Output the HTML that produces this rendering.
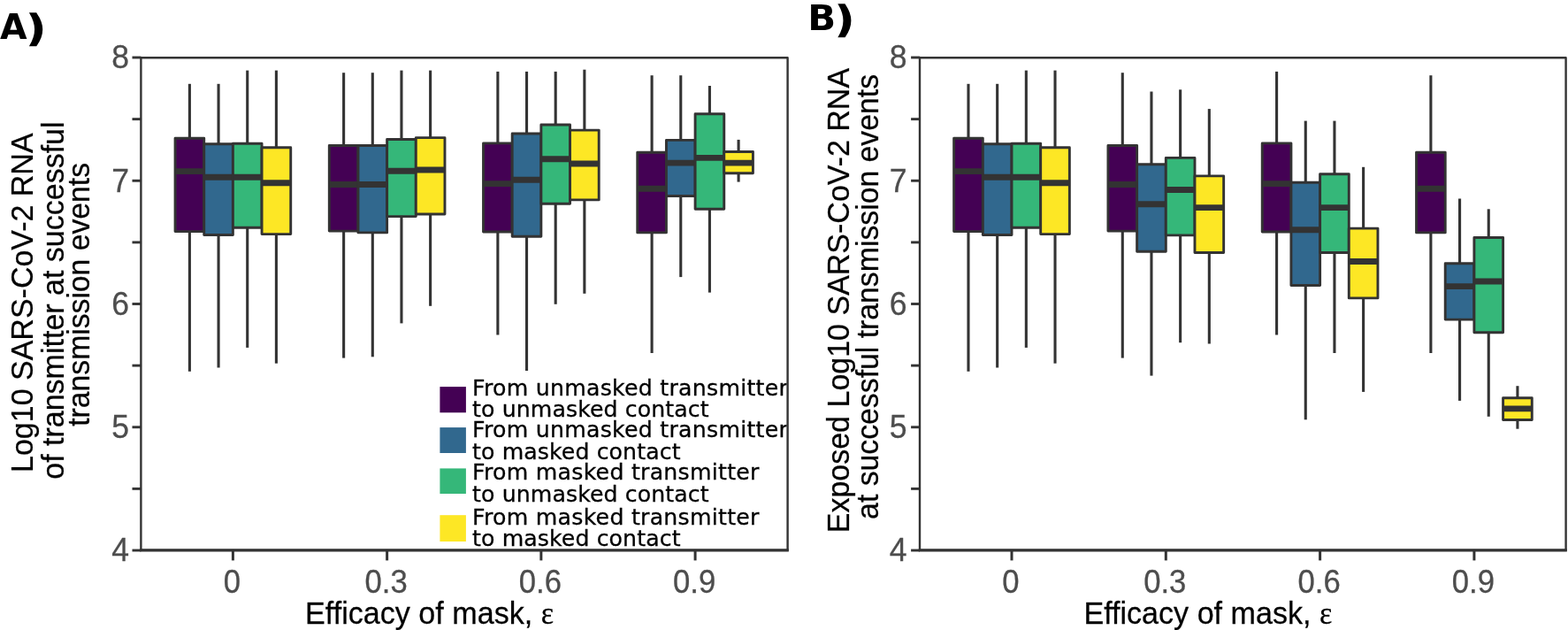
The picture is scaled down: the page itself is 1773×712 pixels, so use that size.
<!DOCTYPE html>
<html><head><meta charset="utf-8"><title>Mask efficacy boxplots</title>
<style>
html,body{margin:0;padding:0;background:#fff;}
body{width:1773px;height:712px;overflow:hidden;}
svg{display:block;}
.tk{font-family:"Liberation Sans",Arial,sans-serif;font-size:36.5px;fill:#4D4D4D;stroke:#4D4D4D;stroke-width:0.3px;}
.ti{font-family:"Liberation Sans",Arial,sans-serif;font-size:34.6px;fill:#000;stroke:#000;stroke-width:0.25px;}
.tr{font-family:"Liberation Sans",Arial,sans-serif;font-size:34px;fill:#000;stroke:#000;stroke-width:0.25px;}
.eps{font-family:"Liberation Serif","DejaVu Serif",serif;}
.lg{font-family:"DejaVu Sans",Verdana,sans-serif;font-size:25.2px;fill:#000;stroke:#000;stroke-width:0.3px;}
.pl{font-family:"DejaVu Sans",Verdana,sans-serif;font-weight:bold;font-size:39.5px;fill:#000;}
.pp{font-size:40px;stroke:#000;stroke-width:1.4px;}
</style></head>
<body>
<svg width="1773" height="712" viewBox="0 0 1773 712">
<rect width="1773" height="712" fill="#fff"/>
<defs><clipPath id="clipA"><rect x="160" y="66.4" width="729.4" height="554.4"/></clipPath></defs>
<line x1="214.40" y1="94.80" x2="214.40" y2="156.20" stroke="#333333" stroke-width="3.1"/>
<line x1="214.40" y1="261.60" x2="214.40" y2="419.80" stroke="#333333" stroke-width="3.1"/>
<rect x="198.06" y="156.20" width="32.67" height="105.40" fill="#440154" stroke="#333333" stroke-width="2.9" stroke-linejoin="round"/>
<line x1="198.06" y1="193.60" x2="230.73" y2="193.60" stroke="#333333" stroke-width="6.9"/>
<line x1="247.07" y1="94.80" x2="247.07" y2="162.70" stroke="#333333" stroke-width="3.1"/>
<line x1="247.07" y1="265.50" x2="247.07" y2="415.50" stroke="#333333" stroke-width="3.1"/>
<rect x="230.73" y="162.70" width="32.67" height="102.80" fill="#31688E" stroke="#333333" stroke-width="2.9" stroke-linejoin="round"/>
<line x1="230.73" y1="200.20" x2="263.40" y2="200.20" stroke="#333333" stroke-width="6.9"/>
<line x1="279.73" y1="79.60" x2="279.73" y2="162.30" stroke="#333333" stroke-width="3.1"/>
<line x1="279.73" y1="257.20" x2="279.73" y2="392.90" stroke="#333333" stroke-width="3.1"/>
<rect x="263.40" y="162.30" width="32.67" height="94.90" fill="#35B779" stroke="#333333" stroke-width="2.9" stroke-linejoin="round"/>
<line x1="263.40" y1="200.20" x2="296.07" y2="200.20" stroke="#333333" stroke-width="6.9"/>
<line x1="312.40" y1="79.60" x2="312.40" y2="166.70" stroke="#333333" stroke-width="3.1"/>
<line x1="312.40" y1="264.60" x2="312.40" y2="410.70" stroke="#333333" stroke-width="3.1"/>
<rect x="296.07" y="166.70" width="32.67" height="97.90" fill="#FDE725" stroke="#333333" stroke-width="2.9" stroke-linejoin="round"/>
<line x1="296.07" y1="206.70" x2="328.74" y2="206.70" stroke="#333333" stroke-width="6.9"/>
<line x1="388.63" y1="82.20" x2="388.63" y2="164.50" stroke="#333333" stroke-width="3.1"/>
<line x1="388.63" y1="261.10" x2="388.63" y2="404.60" stroke="#333333" stroke-width="3.1"/>
<rect x="372.29" y="164.50" width="32.67" height="96.60" fill="#440154" stroke="#333333" stroke-width="2.9" stroke-linejoin="round"/>
<line x1="372.29" y1="208.50" x2="404.96" y2="208.50" stroke="#333333" stroke-width="6.9"/>
<line x1="421.30" y1="82.20" x2="421.30" y2="164.50" stroke="#333333" stroke-width="3.1"/>
<line x1="421.30" y1="262.90" x2="421.30" y2="403.30" stroke="#333333" stroke-width="3.1"/>
<rect x="404.96" y="164.50" width="32.67" height="98.40" fill="#31688E" stroke="#333333" stroke-width="2.9" stroke-linejoin="round"/>
<line x1="404.96" y1="208.50" x2="437.63" y2="208.50" stroke="#333333" stroke-width="6.9"/>
<line x1="453.96" y1="79.60" x2="453.96" y2="157.50" stroke="#333333" stroke-width="3.1"/>
<line x1="453.96" y1="244.60" x2="453.96" y2="365.40" stroke="#333333" stroke-width="3.1"/>
<rect x="437.63" y="157.50" width="32.67" height="87.10" fill="#35B779" stroke="#333333" stroke-width="2.9" stroke-linejoin="round"/>
<line x1="437.63" y1="193.20" x2="470.30" y2="193.20" stroke="#333333" stroke-width="6.9"/>
<line x1="486.63" y1="79.60" x2="486.63" y2="155.60" stroke="#333333" stroke-width="3.1"/>
<line x1="486.63" y1="242.00" x2="486.63" y2="345.80" stroke="#333333" stroke-width="3.1"/>
<rect x="470.30" y="155.60" width="32.67" height="86.40" fill="#FDE725" stroke="#333333" stroke-width="2.9" stroke-linejoin="round"/>
<line x1="470.30" y1="192.00" x2="502.97" y2="192.00" stroke="#333333" stroke-width="6.9"/>
<line x1="562.86" y1="80.90" x2="562.86" y2="161.90" stroke="#333333" stroke-width="3.1"/>
<line x1="562.86" y1="262.00" x2="562.86" y2="378.50" stroke="#333333" stroke-width="3.1"/>
<rect x="546.52" y="161.90" width="32.67" height="100.10" fill="#440154" stroke="#333333" stroke-width="2.9" stroke-linejoin="round"/>
<line x1="546.52" y1="207.60" x2="579.19" y2="207.60" stroke="#333333" stroke-width="6.9"/>
<line x1="595.53" y1="80.90" x2="595.53" y2="151.00" stroke="#333333" stroke-width="3.1"/>
<line x1="595.53" y1="267.20" x2="595.53" y2="419.00" stroke="#333333" stroke-width="3.1"/>
<rect x="579.19" y="151.00" width="32.67" height="116.20" fill="#31688E" stroke="#333333" stroke-width="2.9" stroke-linejoin="round"/>
<line x1="579.19" y1="203.20" x2="611.86" y2="203.20" stroke="#333333" stroke-width="6.9"/>
<line x1="628.19" y1="80.90" x2="628.19" y2="141.00" stroke="#333333" stroke-width="3.1"/>
<line x1="628.19" y1="230.20" x2="628.19" y2="343.80" stroke="#333333" stroke-width="3.1"/>
<rect x="611.86" y="141.00" width="32.67" height="89.20" fill="#35B779" stroke="#333333" stroke-width="2.9" stroke-linejoin="round"/>
<line x1="611.86" y1="179.80" x2="644.53" y2="179.80" stroke="#333333" stroke-width="6.9"/>
<line x1="660.86" y1="78.70" x2="660.86" y2="147.10" stroke="#333333" stroke-width="3.1"/>
<line x1="660.86" y1="225.90" x2="660.86" y2="331.80" stroke="#333333" stroke-width="3.1"/>
<rect x="644.53" y="147.10" width="32.67" height="78.80" fill="#FDE725" stroke="#333333" stroke-width="2.9" stroke-linejoin="round"/>
<line x1="644.53" y1="185.00" x2="677.20" y2="185.00" stroke="#333333" stroke-width="6.9"/>
<line x1="737.09" y1="85.20" x2="737.09" y2="172.30" stroke="#333333" stroke-width="3.1"/>
<line x1="737.09" y1="262.90" x2="737.09" y2="399.00" stroke="#333333" stroke-width="3.1"/>
<rect x="720.75" y="172.30" width="32.67" height="90.60" fill="#440154" stroke="#333333" stroke-width="2.9" stroke-linejoin="round"/>
<line x1="720.75" y1="213.20" x2="753.42" y2="213.20" stroke="#333333" stroke-width="6.9"/>
<line x1="769.76" y1="85.20" x2="769.76" y2="158.40" stroke="#333333" stroke-width="3.1"/>
<line x1="769.76" y1="221.50" x2="769.76" y2="313.10" stroke="#333333" stroke-width="3.1"/>
<rect x="753.42" y="158.40" width="32.67" height="63.10" fill="#31688E" stroke="#333333" stroke-width="2.9" stroke-linejoin="round"/>
<line x1="753.42" y1="184.10" x2="786.09" y2="184.10" stroke="#333333" stroke-width="6.9"/>
<line x1="802.42" y1="97.00" x2="802.42" y2="128.80" stroke="#333333" stroke-width="3.1"/>
<line x1="802.42" y1="236.30" x2="802.42" y2="330.60" stroke="#333333" stroke-width="3.1"/>
<rect x="786.09" y="128.80" width="32.67" height="107.50" fill="#35B779" stroke="#333333" stroke-width="2.9" stroke-linejoin="round"/>
<line x1="786.09" y1="178.40" x2="818.76" y2="178.40" stroke="#333333" stroke-width="6.9"/>
<line x1="835.09" y1="157.90" x2="835.09" y2="171.50" stroke="#333333" stroke-width="3.1"/>
<line x1="835.09" y1="195.80" x2="835.09" y2="205.60" stroke="#333333" stroke-width="3.1"/>
<rect x="818.76" y="171.50" width="32.67" height="24.30" fill="#FDE725" stroke="#333333" stroke-width="2.9" stroke-linejoin="round"/>
<line x1="818.76" y1="184.10" x2="851.43" y2="184.10" stroke="#333333" stroke-width="6.9"/>
<rect x="159.40" y="65.30" width="731.20" height="556.60" fill="none" stroke="#333333" stroke-width="2.4" stroke-linejoin="round"/>
<line x1="158.20" y1="621.90" x2="891.80" y2="621.90" stroke="#333333" stroke-width="3.4"/>
<line x1="149.50" y1="622.00" x2="159.40" y2="622.00" stroke="#333333" stroke-width="2.9"/>
<text transform="translate(146.00,634.30) scale(0.975,1)" text-anchor="end" class="tk">4</text>
<line x1="149.50" y1="552.38" x2="159.40" y2="552.38" stroke="#333333" stroke-width="2.9"/>
<line x1="149.50" y1="482.75" x2="159.40" y2="482.75" stroke="#333333" stroke-width="2.9"/>
<text transform="translate(146.00,495.05) scale(0.975,1)" text-anchor="end" class="tk">5</text>
<line x1="149.50" y1="413.12" x2="159.40" y2="413.12" stroke="#333333" stroke-width="2.9"/>
<line x1="149.50" y1="343.50" x2="159.40" y2="343.50" stroke="#333333" stroke-width="2.9"/>
<text transform="translate(146.00,355.80) scale(0.975,1)" text-anchor="end" class="tk">6</text>
<line x1="149.50" y1="273.88" x2="159.40" y2="273.88" stroke="#333333" stroke-width="2.9"/>
<line x1="149.50" y1="204.25" x2="159.40" y2="204.25" stroke="#333333" stroke-width="2.9"/>
<text transform="translate(146.00,216.55) scale(0.975,1)" text-anchor="end" class="tk">7</text>
<line x1="149.50" y1="134.62" x2="159.40" y2="134.62" stroke="#333333" stroke-width="2.9"/>
<line x1="149.50" y1="65.00" x2="159.40" y2="65.00" stroke="#333333" stroke-width="2.9"/>
<text transform="translate(146.00,77.30) scale(0.975,1)" text-anchor="end" class="tk">8</text>
<line x1="263.40" y1="621.90" x2="263.40" y2="633.40" stroke="#333333" stroke-width="3.0"/>
<text transform="translate(262.40,669.6) scale(0.95,1)" text-anchor="middle" class="tk">0</text>
<line x1="437.63" y1="621.90" x2="437.63" y2="633.40" stroke="#333333" stroke-width="3.0"/>
<text transform="translate(436.63,669.6) scale(0.95,1)" text-anchor="middle" class="tk">0.3</text>
<line x1="611.86" y1="621.90" x2="611.86" y2="633.40" stroke="#333333" stroke-width="3.0"/>
<text transform="translate(610.86,669.6) scale(0.95,1)" text-anchor="middle" class="tk">0.6</text>
<line x1="786.09" y1="621.90" x2="786.09" y2="633.40" stroke="#333333" stroke-width="3.0"/>
<text transform="translate(785.09,669.6) scale(0.95,1)" text-anchor="middle" class="tk">0.9</text>
<g clip-path="url(#clipA)">
<rect x="497.4" y="437.10" width="29.5" height="29.20" fill="#440154"/>
<text x="534.1" y="446.50" class="lg" style="letter-spacing:0.26px">From unmasked transmitter</text>
<text x="534.1" y="470.70" class="lg" style="letter-spacing:0.1px">to unmasked contact</text>
<rect x="497.4" y="483.10" width="29.5" height="28.90" fill="#31688E"/>
<text x="534.1" y="493.70" class="lg" style="letter-spacing:0.26px">From unmasked transmitter</text>
<text x="534.1" y="518.50" class="lg" style="letter-spacing:0.1px">to masked contact</text>
<rect x="497.4" y="529.40" width="29.5" height="28.60" fill="#35B779"/>
<text x="534.1" y="542.40" class="lg" style="letter-spacing:0.26px">From masked transmitter</text>
<text x="534.1" y="566.60" class="lg" style="letter-spacing:0.1px">to unmasked contact</text>
<rect x="497.4" y="582.20" width="29.5" height="29.80" fill="#FDE725"/>
<text x="534.1" y="593.20" class="lg" style="letter-spacing:0.26px">From masked transmitter</text>
<text x="534.1" y="617.00" class="lg" style="letter-spacing:0.1px">to masked contact</text>
</g>
<line x1="1094.98" y1="94.80" x2="1094.98" y2="156.20" stroke="#333333" stroke-width="3.1"/>
<line x1="1094.98" y1="261.60" x2="1094.98" y2="419.80" stroke="#333333" stroke-width="3.1"/>
<rect x="1078.64" y="156.20" width="32.68" height="105.40" fill="#440154" stroke="#333333" stroke-width="2.9" stroke-linejoin="round"/>
<line x1="1078.64" y1="193.60" x2="1111.32" y2="193.60" stroke="#333333" stroke-width="6.9"/>
<line x1="1127.66" y1="94.80" x2="1127.66" y2="162.70" stroke="#333333" stroke-width="3.1"/>
<line x1="1127.66" y1="265.50" x2="1127.66" y2="415.50" stroke="#333333" stroke-width="3.1"/>
<rect x="1111.32" y="162.70" width="32.68" height="102.80" fill="#31688E" stroke="#333333" stroke-width="2.9" stroke-linejoin="round"/>
<line x1="1111.32" y1="200.20" x2="1144.00" y2="200.20" stroke="#333333" stroke-width="6.9"/>
<line x1="1160.34" y1="79.60" x2="1160.34" y2="162.30" stroke="#333333" stroke-width="3.1"/>
<line x1="1160.34" y1="257.20" x2="1160.34" y2="392.90" stroke="#333333" stroke-width="3.1"/>
<rect x="1144.00" y="162.30" width="32.68" height="94.90" fill="#35B779" stroke="#333333" stroke-width="2.9" stroke-linejoin="round"/>
<line x1="1144.00" y1="200.20" x2="1176.68" y2="200.20" stroke="#333333" stroke-width="6.9"/>
<line x1="1193.02" y1="79.60" x2="1193.02" y2="166.70" stroke="#333333" stroke-width="3.1"/>
<line x1="1193.02" y1="264.60" x2="1193.02" y2="410.70" stroke="#333333" stroke-width="3.1"/>
<rect x="1176.68" y="166.70" width="32.68" height="97.90" fill="#FDE725" stroke="#333333" stroke-width="2.9" stroke-linejoin="round"/>
<line x1="1176.68" y1="206.70" x2="1209.36" y2="206.70" stroke="#333333" stroke-width="6.9"/>
<line x1="1269.28" y1="82.20" x2="1269.28" y2="164.50" stroke="#333333" stroke-width="3.1"/>
<line x1="1269.28" y1="261.10" x2="1269.28" y2="404.60" stroke="#333333" stroke-width="3.1"/>
<rect x="1252.94" y="164.50" width="32.68" height="96.60" fill="#440154" stroke="#333333" stroke-width="2.9" stroke-linejoin="round"/>
<line x1="1252.94" y1="208.50" x2="1285.62" y2="208.50" stroke="#333333" stroke-width="6.9"/>
<line x1="1301.96" y1="103.50" x2="1301.96" y2="185.80" stroke="#333333" stroke-width="3.1"/>
<line x1="1301.96" y1="284.20" x2="1301.96" y2="424.60" stroke="#333333" stroke-width="3.1"/>
<rect x="1285.62" y="185.80" width="32.68" height="98.40" fill="#31688E" stroke="#333333" stroke-width="2.9" stroke-linejoin="round"/>
<line x1="1285.62" y1="230.70" x2="1318.30" y2="230.70" stroke="#333333" stroke-width="6.9"/>
<line x1="1334.64" y1="101.30" x2="1334.64" y2="178.40" stroke="#333333" stroke-width="3.1"/>
<line x1="1334.64" y1="265.90" x2="1334.64" y2="387.20" stroke="#333333" stroke-width="3.1"/>
<rect x="1318.30" y="178.40" width="32.68" height="87.50" fill="#35B779" stroke="#333333" stroke-width="2.9" stroke-linejoin="round"/>
<line x1="1318.30" y1="214.50" x2="1350.98" y2="214.50" stroke="#333333" stroke-width="6.9"/>
<line x1="1367.32" y1="123.10" x2="1367.32" y2="198.90" stroke="#333333" stroke-width="3.1"/>
<line x1="1367.32" y1="285.50" x2="1367.32" y2="388.50" stroke="#333333" stroke-width="3.1"/>
<rect x="1350.98" y="198.90" width="32.68" height="86.60" fill="#FDE725" stroke="#333333" stroke-width="2.9" stroke-linejoin="round"/>
<line x1="1350.98" y1="234.60" x2="1383.66" y2="234.60" stroke="#333333" stroke-width="6.9"/>
<line x1="1443.58" y1="80.90" x2="1443.58" y2="161.90" stroke="#333333" stroke-width="3.1"/>
<line x1="1443.58" y1="262.00" x2="1443.58" y2="378.50" stroke="#333333" stroke-width="3.1"/>
<rect x="1427.24" y="161.90" width="32.68" height="100.10" fill="#440154" stroke="#333333" stroke-width="2.9" stroke-linejoin="round"/>
<line x1="1427.24" y1="207.60" x2="1459.92" y2="207.60" stroke="#333333" stroke-width="6.9"/>
<line x1="1476.26" y1="136.60" x2="1476.26" y2="206.30" stroke="#333333" stroke-width="3.1"/>
<line x1="1476.26" y1="322.50" x2="1476.26" y2="474.30" stroke="#333333" stroke-width="3.1"/>
<rect x="1459.92" y="206.30" width="32.68" height="116.20" fill="#31688E" stroke="#333333" stroke-width="2.9" stroke-linejoin="round"/>
<line x1="1459.92" y1="259.80" x2="1492.60" y2="259.80" stroke="#333333" stroke-width="6.9"/>
<line x1="1508.94" y1="136.60" x2="1508.94" y2="196.70" stroke="#333333" stroke-width="3.1"/>
<line x1="1508.94" y1="285.50" x2="1508.94" y2="399.00" stroke="#333333" stroke-width="3.1"/>
<rect x="1492.60" y="196.70" width="32.68" height="88.80" fill="#35B779" stroke="#333333" stroke-width="2.9" stroke-linejoin="round"/>
<line x1="1492.60" y1="234.60" x2="1525.28" y2="234.60" stroke="#333333" stroke-width="6.9"/>
<line x1="1541.62" y1="188.80" x2="1541.62" y2="258.10" stroke="#333333" stroke-width="3.1"/>
<line x1="1541.62" y1="336.90" x2="1541.62" y2="442.90" stroke="#333333" stroke-width="3.1"/>
<rect x="1525.28" y="258.10" width="32.68" height="78.80" fill="#FDE725" stroke="#333333" stroke-width="2.9" stroke-linejoin="round"/>
<line x1="1525.28" y1="295.50" x2="1557.96" y2="295.50" stroke="#333333" stroke-width="6.9"/>
<line x1="1617.88" y1="85.20" x2="1617.88" y2="172.30" stroke="#333333" stroke-width="3.1"/>
<line x1="1617.88" y1="262.90" x2="1617.88" y2="399.00" stroke="#333333" stroke-width="3.1"/>
<rect x="1601.54" y="172.30" width="32.68" height="90.60" fill="#440154" stroke="#333333" stroke-width="2.9" stroke-linejoin="round"/>
<line x1="1601.54" y1="213.20" x2="1634.22" y2="213.20" stroke="#333333" stroke-width="6.9"/>
<line x1="1650.56" y1="224.50" x2="1650.56" y2="297.70" stroke="#333333" stroke-width="3.1"/>
<line x1="1650.56" y1="361.10" x2="1650.56" y2="452.90" stroke="#333333" stroke-width="3.1"/>
<rect x="1634.22" y="297.70" width="32.68" height="63.40" fill="#31688E" stroke="#333333" stroke-width="2.9" stroke-linejoin="round"/>
<line x1="1634.22" y1="323.60" x2="1666.90" y2="323.60" stroke="#333333" stroke-width="6.9"/>
<line x1="1683.24" y1="236.30" x2="1683.24" y2="268.50" stroke="#333333" stroke-width="3.1"/>
<line x1="1683.24" y1="375.70" x2="1683.24" y2="470.80" stroke="#333333" stroke-width="3.1"/>
<rect x="1666.90" y="268.50" width="32.68" height="107.20" fill="#35B779" stroke="#333333" stroke-width="2.9" stroke-linejoin="round"/>
<line x1="1666.90" y1="318.00" x2="1699.58" y2="318.00" stroke="#333333" stroke-width="6.9"/>
<line x1="1715.92" y1="436.20" x2="1715.92" y2="449.70" stroke="#333333" stroke-width="3.1"/>
<line x1="1715.92" y1="474.50" x2="1715.92" y2="484.70" stroke="#333333" stroke-width="3.1"/>
<rect x="1699.58" y="449.70" width="32.68" height="24.80" fill="#FDE725" stroke="#333333" stroke-width="2.9" stroke-linejoin="round"/>
<line x1="1699.58" y1="461.90" x2="1732.26" y2="461.90" stroke="#333333" stroke-width="6.9"/>
<rect x="1040.00" y="65.30" width="730.60" height="556.60" fill="none" stroke="#333333" stroke-width="2.4" stroke-linejoin="round"/>
<line x1="1038.80" y1="621.90" x2="1771.80" y2="621.90" stroke="#333333" stroke-width="3.4"/>
<line x1="1030.10" y1="622.00" x2="1040.00" y2="622.00" stroke="#333333" stroke-width="2.9"/>
<text transform="translate(1025.50,634.30) scale(0.975,1)" text-anchor="end" class="tk">4</text>
<line x1="1030.10" y1="552.38" x2="1040.00" y2="552.38" stroke="#333333" stroke-width="2.9"/>
<line x1="1030.10" y1="482.75" x2="1040.00" y2="482.75" stroke="#333333" stroke-width="2.9"/>
<text transform="translate(1025.50,495.05) scale(0.975,1)" text-anchor="end" class="tk">5</text>
<line x1="1030.10" y1="413.12" x2="1040.00" y2="413.12" stroke="#333333" stroke-width="2.9"/>
<line x1="1030.10" y1="343.50" x2="1040.00" y2="343.50" stroke="#333333" stroke-width="2.9"/>
<text transform="translate(1025.50,355.80) scale(0.975,1)" text-anchor="end" class="tk">6</text>
<line x1="1030.10" y1="273.88" x2="1040.00" y2="273.88" stroke="#333333" stroke-width="2.9"/>
<line x1="1030.10" y1="204.25" x2="1040.00" y2="204.25" stroke="#333333" stroke-width="2.9"/>
<text transform="translate(1025.50,216.55) scale(0.975,1)" text-anchor="end" class="tk">7</text>
<line x1="1030.10" y1="134.62" x2="1040.00" y2="134.62" stroke="#333333" stroke-width="2.9"/>
<line x1="1030.10" y1="65.00" x2="1040.00" y2="65.00" stroke="#333333" stroke-width="2.9"/>
<text transform="translate(1025.50,77.30) scale(0.975,1)" text-anchor="end" class="tk">8</text>
<line x1="1144.00" y1="621.90" x2="1144.00" y2="633.40" stroke="#333333" stroke-width="3.0"/>
<text transform="translate(1143.00,669.6) scale(0.95,1)" text-anchor="middle" class="tk">0</text>
<line x1="1318.30" y1="621.90" x2="1318.30" y2="633.40" stroke="#333333" stroke-width="3.0"/>
<text transform="translate(1317.30,669.6) scale(0.95,1)" text-anchor="middle" class="tk">0.3</text>
<line x1="1492.60" y1="621.90" x2="1492.60" y2="633.40" stroke="#333333" stroke-width="3.0"/>
<text transform="translate(1491.60,669.6) scale(0.95,1)" text-anchor="middle" class="tk">0.6</text>
<line x1="1666.90" y1="621.90" x2="1666.90" y2="633.40" stroke="#333333" stroke-width="3.0"/>
<text transform="translate(1665.90,669.6) scale(0.95,1)" text-anchor="middle" class="tk">0.9</text>
<text x="0" y="43.8" class="pl">A</text><text transform="translate(30.6,45.65) scale(1.14,1)" class="pl pp">)</text>
<text transform="translate(913.3,34.1) scale(1.06,1)" class="pl">B</text><text transform="translate(944.9,35.75) scale(1.12,1)" class="pl pp">)</text>
<text transform="translate(345.1,704.7) scale(0.986,1.025)" class="ti">Efficacy of mask, <tspan class="eps">&#949;</tspan></text>
<text transform="translate(1225.4,704.7) scale(0.986,1.025)" class="ti">Efficacy of mask, <tspan class="eps">&#949;</tspan></text>
<text transform="translate(36.70,342.20) rotate(-90) scale(1,1.042)" text-anchor="middle" class="tr" style="font-size:34.0px">Log10 SARS-CoV-2 RNA</text>
<text transform="translate(71.60,339.60) rotate(-90) scale(1,1.042)" text-anchor="middle" class="tr" style="font-size:34.0px">of transmitter at successful</text>
<text transform="translate(101.10,332.90) rotate(-90) scale(1,1.042)" text-anchor="middle" class="tr" style="font-size:33.7px">transmission events</text>
<text transform="translate(960.00,339.60) rotate(-90) scale(1,1.042)" text-anchor="middle" class="tr" style="font-size:34.0px">Exposed Log10 SARS-CoV-2 RNA</text>
<text transform="translate(993.00,335.40) rotate(-90) scale(1,1.042)" text-anchor="middle" class="tr" style="font-size:33.78px">at successful transmission events</text>
</svg>
</body></html>
